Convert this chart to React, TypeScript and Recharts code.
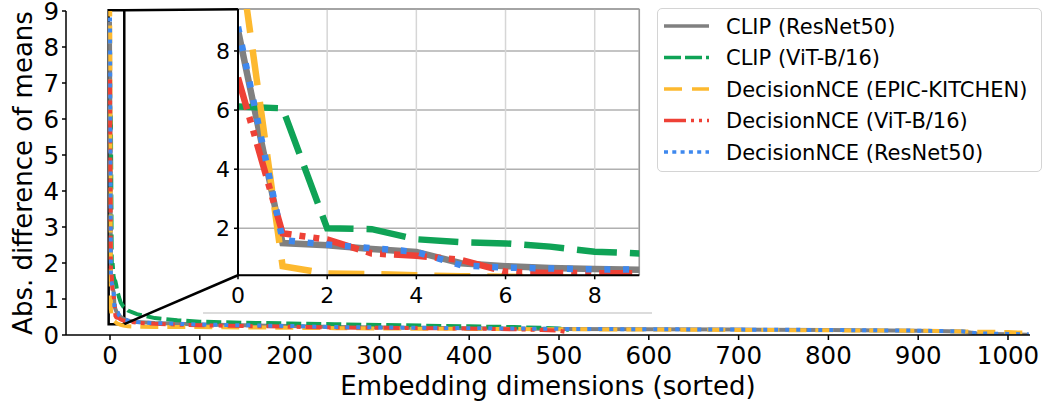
import React from 'react';
import { LineChart, Line, XAxis, YAxis, CartesianGrid, ReferenceArea, ReferenceLine, Legend } from 'recharts';

// x positions (sorted embedding dimension index) at which values were read
const dims1024 = [0, 1, 2, 3, 4, 5, 6, 7, 8, 9, 10, 12, 15, 20, 30, 50, 75, 100, 150, 200, 250, 300, 400, 500, 600, 700, 800, 900, 950, 965, 980, 1000, 1023];
const dims512 = [0, 1, 2, 3, 4, 5, 6, 7, 8, 9, 10, 12, 15, 20, 30, 50, 75, 100, 150, 200, 250, 300, 350, 400, 450, 480, 500, 511];

const clipResNet50 = [8.7, 1.5, 1.43, 1.3, 1.2, 0.82, 0.72, 0.66, 0.62, 0.6, 0.55, 0.5, 0.45, 0.4, 0.36, 0.33, 0.31, 0.29, 0.27, 0.25, 0.22, 0.21, 0.19, 0.17, 0.16, 0.15, 0.14, 0.12, 0.1, 0.04, 0.03, 0.02, 0.01];
const clipViT = [6.12, 6.06, 2.0, 1.97, 1.63, 1.53, 1.49, 1.38, 1.21, 1.15, 1.05, 0.9, 0.78, 0.68, 0.58, 0.47, 0.41, 0.37, 0.34, 0.32, 0.3, 0.28, 0.26, 0.24, 0.22, 0.2, 0.18, 0.14];
const dncEpic = [11.6, 0.72, 0.47, 0.45, 0.41, 0.38, 0.36, 0.34, 0.32, 0.31, 0.3, 0.28, 0.26, 0.24, 0.23, 0.22, 0.22, 0.22, 0.21, 0.2, 0.19, 0.18, 0.17, 0.16, 0.15, 0.14, 0.13, 0.12, 0.1, 0.09, 0.09, 0.08, 0.06];
const dncViT = [7.1, 1.83, 1.62, 1.15, 1.07, 0.93, 0.53, 0.49, 0.48, 0.48, 0.46, 0.43, 0.4, 0.37, 0.34, 0.31, 0.29, 0.27, 0.25, 0.23, 0.21, 0.2, 0.19, 0.18, 0.16, 0.14, 0.12, 0.07];
const dncResNet50 = [8.82, 1.6, 1.45, 1.33, 1.2, 0.75, 0.67, 0.64, 0.61, 0.61, 0.55, 0.5, 0.45, 0.4, 0.36, 0.33, 0.31, 0.29, 0.27, 0.25, 0.22, 0.21, 0.19, 0.17, 0.16, 0.15, 0.14, 0.12, 0.1, 0.05, 0.04, 0.03, 0.02];

const seriesNames = ['CLIP (ResNet50)', 'CLIP (ViT-B/16)', 'DecisionNCE (EPIC-KITCHEN)', 'DecisionNCE (ViT-B/16)', 'DecisionNCE (ResNet50)'];

const xTicks = [0, 100, 200, 300, 400, 500, 600, 700, 800, 900, 1000];
const yTicks = [0, 1, 2, 3, 4, 5, 6, 7, 8, 9];
const insetXTicks = [0, 2, 4, 6, 8];
const insetYTicks = [2, 4, 6, 8];

const toPoints = (xs: number[], ys: number[]) => xs.map((x, i) => ({ x, y: ys[i] }));

const seriesData = [
  toPoints(dims1024, clipResNet50),
  toPoints(dims512, clipViT),
  toPoints(dims1024, dncEpic),
  toPoints(dims512, dncViT),
  toPoints(dims1024, dncResNet50),
];

const styles = [
  { color: '#808080', main: undefined, inset: undefined, legend: undefined },
  { color: '#0fa356', main: '15 5', inset: '40 13', legend: '17 4' },
  { color: '#fdb92f', main: '18 9', inset: '36 17', legend: '18 10' },
  { color: '#ee4136', main: '16 5 4 5 4 5', inset: '33 8 6 8 6 8', legend: '22 5 3 5 3 5' },
  { color: '#3e88ee', main: '4 7', inset: '6 12.7', legend: '4 4.3' },
];

const FONT = 'DejaVu Sans';

const renderXLabel = (props: any) => {
  const vb = props.viewBox || { x: 66, y: 335, width: 964, height: 67 };
  return (
    <text x={vb.x + vb.width / 2} y={vb.y + 60} textAnchor="middle" fontSize={26} fontFamily={FONT} fill="#000">
      Embedding dimensions (sorted)
    </text>
  );
};

const renderYLabel = (props: any) => {
  const vb = props.viewBox || { x: 0, y: 11, width: 66, height: 324 };
  const cx = 32;
  const cy = vb.y + vb.height / 2;
  return (
    <text x={cx} y={cy} transform={`rotate(-90, ${cx}, ${cy})`} textAnchor="middle" fontSize={26} fontFamily={FONT} fill="#000">
      Abs. difference of means
    </text>
  );
};

const renderLegend = () => (
  <div
    style={{
      width: 385,
      height: 164,
      boxSizing: 'border-box',
      border: '1.5px solid #d4d4d4',
      borderRadius: 5,
      background: 'rgba(255,255,255,0.85)',
    }}
  >
    <svg width={382} height={161} style={{ display: 'block' }}>
      {seriesNames.map((name, i) => {
        const cy = 17 + i * 31.5;
        return (
          <g key={name}>
            <line x1={6} x2={51} y1={cy} y2={cy} stroke={styles[i].color} strokeWidth={3.5} strokeDasharray={styles[i].legend} />
            <text x={68} y={cy + 7.5} fontSize={21} fontFamily={FONT} fill="#000">
              {name}
            </text>
          </g>
        );
      })}
    </svg>
  </div>
);

const tickStyle = { fontSize: 24.5, fill: '#000', fontFamily: FONT };
const insetTickStyle = { fontSize: 22, fill: '#000', fontFamily: FONT };

export default function App() {
  return (
    <div style={{ position: 'absolute', left: 0, top: 0, width: 1045, height: 402, background: '#fff' }}>
      <LineChart width={1045} height={402} margin={{ top: 11, right: 15, bottom: 0, left: 0 }}>
        <XAxis
          type="number"
          dataKey="x"
          domain={[-49, 1024.5]}
          ticks={xTicks}
          interval={0}
          height={67}
          tickSize={5}
          tickMargin={7}
          allowDataOverflow
          axisLine={{ stroke: '#000', strokeWidth: 1.5 }}
          tickLine={{ stroke: '#000', strokeWidth: 1.5 }}
          tick={tickStyle}
          label={renderXLabel}
        />
        <YAxis
          type="number"
          dataKey="y"
          domain={[0, 9]}
          ticks={yTicks}
          interval={0}
          width={66}
          tickSize={4}
          tickMargin={3}
          allowDataOverflow
          axisLine={{ stroke: '#000', strokeWidth: 1.5 }}
          tickLine={{ stroke: '#000', strokeWidth: 1.5 }}
          tick={tickStyle}
          label={renderYLabel}
        />
        <Legend
          layout="vertical"
          align="center"
          verticalAlign="middle"
          content={renderLegend}
          wrapperStyle={{ position: 'absolute', left: 657, top: 8, width: 385, height: 164 }}
        />
        <ReferenceLine
          segment={[{ x: 103.6, y: 0.61 }, { x: 603.6, y: 0.61 }]}
          stroke="#d0d0d0"
          strokeWidth={1.5}
          ifOverflow="visible"
        />
        {seriesData.map((d, i) => (
          <Line
            key={seriesNames[i]}
            data={d}
            dataKey="y"
            name={seriesNames[i]}
            type="linear"
            stroke={styles[i].color}
            strokeWidth={4}
            strokeDasharray={styles[i].main}
            dot={false}
            activeDot={false}
            isAnimationActive={false}
          />
        ))}
        <ReferenceArea x1={-1.5} x2={15.9} y1={0.3} y2={9.02} fill="none" fillOpacity={0} stroke="#000" strokeWidth={2.5} ifOverflow="visible" />
        <ReferenceLine segment={[{ x: 15.9, y: 0.3 }, { x: 142.5, y: 1.66 }]} stroke="#000" strokeWidth={2.5} ifOverflow="visible" />
        <ReferenceLine segment={[{ x: 15.9, y: 9.02 }, { x: 142.5, y: 9.05 }]} stroke="#000" strokeWidth={2.5} ifOverflow="visible" />
      </LineChart>

      <div style={{ position: 'absolute', left: 190, top: 0 }}>
        <LineChart width={460} height={312} margin={{ top: 9, right: 10.7, bottom: 0, left: 0 }}>
          <CartesianGrid vertical={false} stroke="#b0b0b0" strokeWidth={1.5} />
          <CartesianGrid horizontal={false} stroke="#d6d6d6" strokeWidth={1.5} />
          <XAxis
            type="number"
            dataKey="x"
            domain={[0, 9]}
            ticks={insetXTicks}
            interval={0}
            height={36.7}
            tickSize={4}
            tickMargin={8}
            allowDataOverflow
            axisLine={{ stroke: '#000', strokeWidth: 2 }}
            tickLine={{ stroke: '#000', strokeWidth: 1.5 }}
            tick={insetTickStyle}
          />
          <YAxis
            type="number"
            dataKey="y"
            domain={[0.41, 9.42]}
            ticks={insetYTicks}
            interval={0}
            width={48}
            tickSize={4}
            tickMargin={4}
            allowDataOverflow
            axisLine={{ stroke: '#000', strokeWidth: 2 }}
            tickLine={{ stroke: '#000', strokeWidth: 1.5 }}
            tick={insetTickStyle}
          />
          <ReferenceLine y={9.42} stroke="#9a9a9a" strokeWidth={1.5} ifOverflow="visible" />
          <ReferenceLine x={9} stroke="#9a9a9a" strokeWidth={1.5} ifOverflow="visible" />
          {seriesData.map((d, i) => (
            <Line
              key={seriesNames[i]}
              data={d.filter((p) => p.x <= 10)}
              dataKey="y"
              name={seriesNames[i]}
              type="linear"
              stroke={styles[i].color}
              strokeWidth={6.5}
              strokeDasharray={styles[i].inset}
              dot={false}
              activeDot={false}
              isAnimationActive={false}
              legendType="none"
            />
          ))}
        </LineChart>
      </div>
    </div>
  );
}
